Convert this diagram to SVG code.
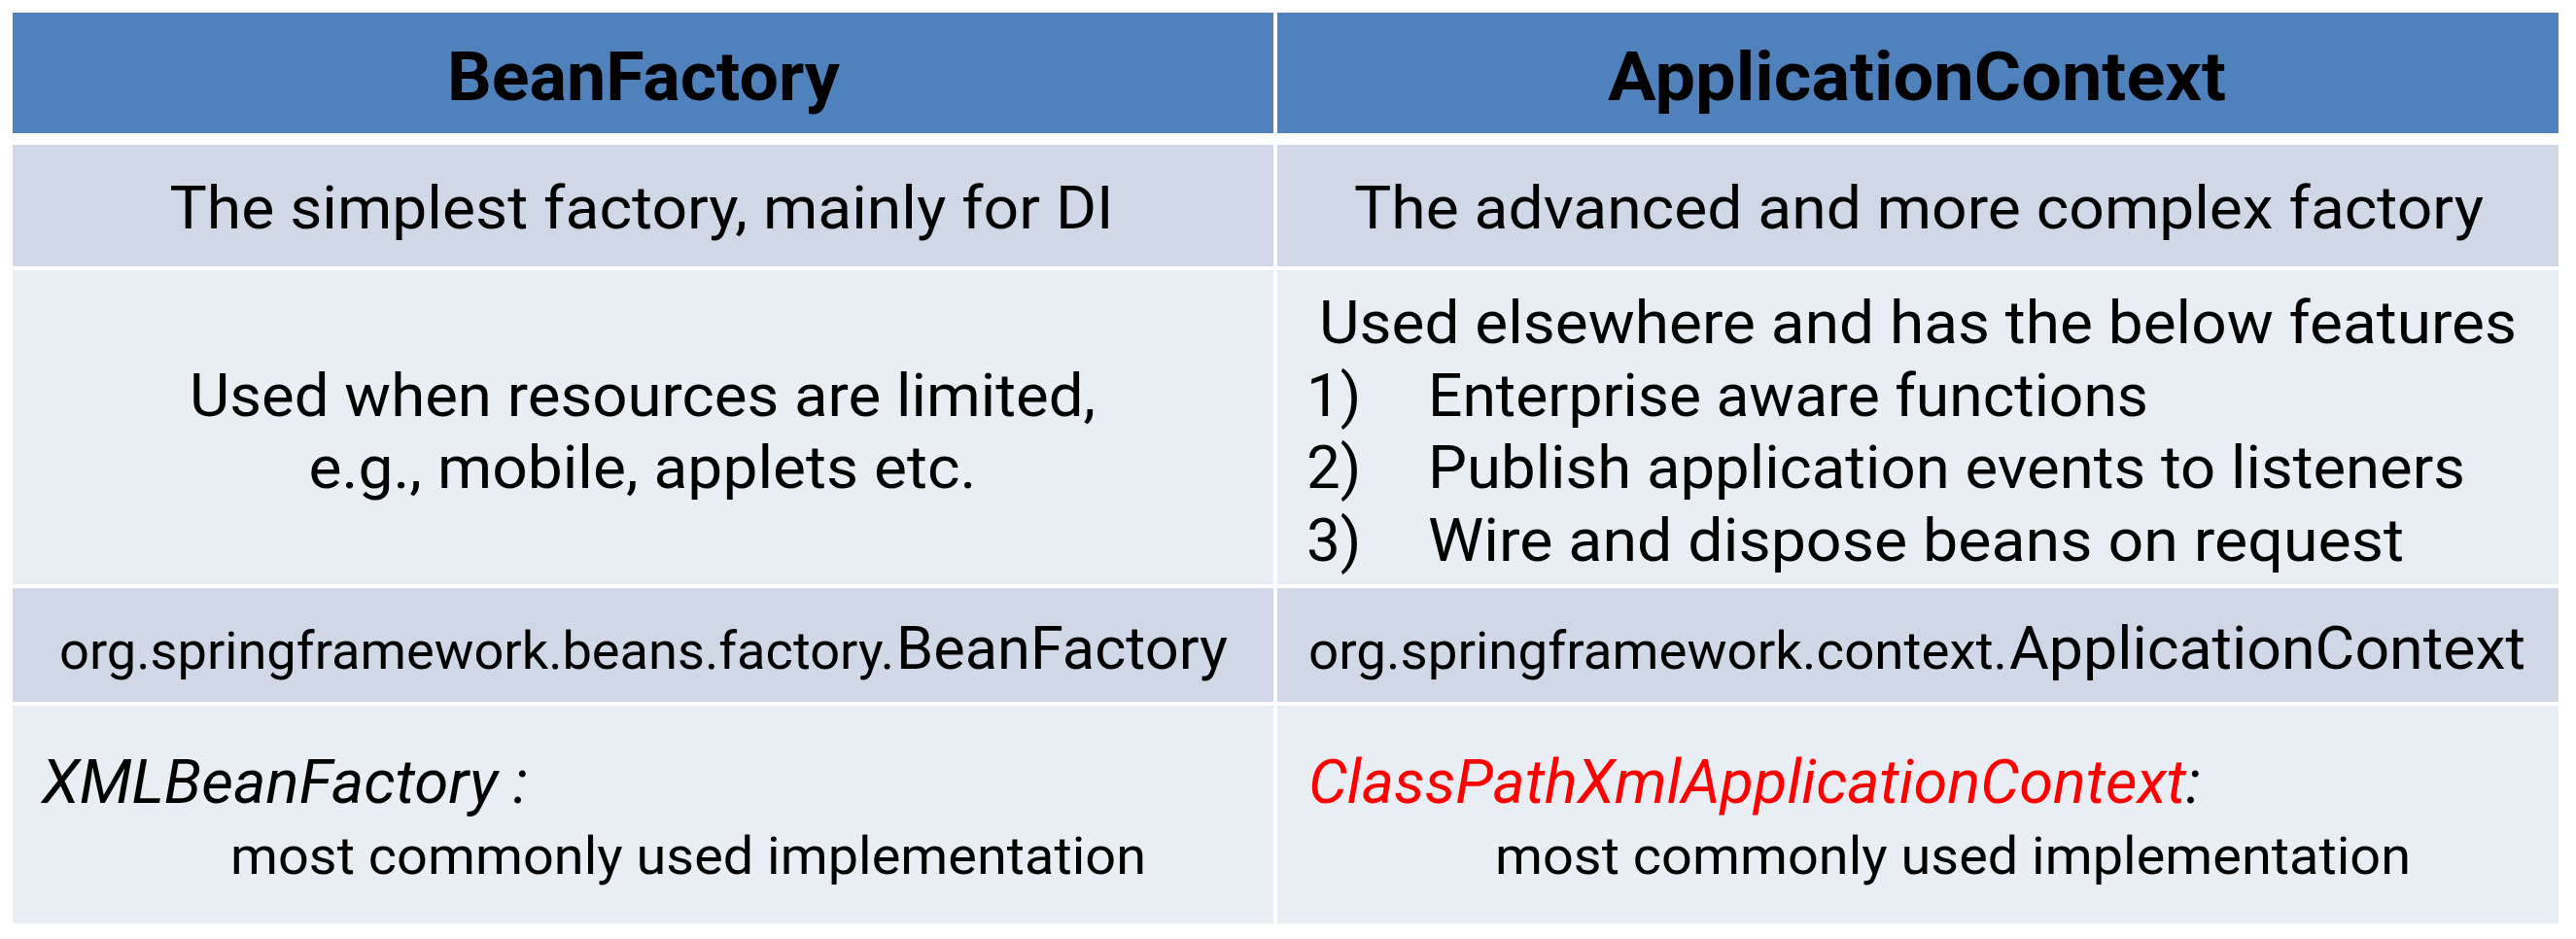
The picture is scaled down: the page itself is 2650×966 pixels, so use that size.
<svg xmlns="http://www.w3.org/2000/svg" width="2650" height="966" viewBox="0 0 2650 966">
<style>
.hd{fill:#4F81BD}
.c1{fill:#D0D8E8}
.c2{fill:#E9EDF4}
text{font-family:Roboto,"Noto Sans","Liberation Sans",sans-serif;fill:#000}
.h{font-size:70px;font-weight:bold;text-anchor:middle}
.t{font-size:62px}
.m{text-anchor:middle}
.s{font-size:53px}
.i{font-style:italic}
.red{fill:#FF0000}
</style>
<rect width="2650" height="966" fill="#FFFFFF"/>
<g id="header-beanfactory">
<rect class="hd" x="13" y="13" width="1297" height="124"/>
<text class="h" x="662" y="103" textLength="404" lengthAdjust="spacingAndGlyphs">BeanFactory</text>
</g>
<g id="header-applicationcontext">
<rect class="hd" x="1314" y="13" width="1318" height="124"/>
<text class="h" x="1972" y="103" textLength="636" lengthAdjust="spacingAndGlyphs">ApplicationContext</text>
</g>
<g id="row1-left">
<rect class="c1" x="13" y="149" width="1297" height="125"/>
<text class="t m" x="660" y="235" textLength="971" lengthAdjust="spacingAndGlyphs">The simplest factory, mainly for DI</text>
</g>
<g id="row1-right">
<rect class="c1" x="1314" y="149" width="1318" height="125"/>
<text class="t m" x="1974" y="235" textLength="1162" lengthAdjust="spacingAndGlyphs">The advanced and more complex factory</text>
</g>
<g id="row2-left">
<rect class="c2" x="13" y="278" width="1297" height="323"/>
<text class="t m" x="661" y="428" textLength="932" lengthAdjust="spacingAndGlyphs">Used when resources are limited,</text>
<text class="t m" x="661" y="502" textLength="687" lengthAdjust="spacingAndGlyphs">e.g., mobile, applets etc.</text>
</g>
<g id="row2-right">
<rect class="c2" x="1314" y="278" width="1318" height="323"/>
<text class="t" x="1357" y="353" textLength="1232" lengthAdjust="spacingAndGlyphs">Used elsewhere and has the below features</text>
<text class="t" x="1344" y="428">1)</text>
<text class="t" x="1469" y="428" textLength="741" lengthAdjust="spacingAndGlyphs">Enterprise aware functions</text>
<text class="t" x="1344" y="502">2)</text>
<text class="t" x="1469" y="502" textLength="1067" lengthAdjust="spacingAndGlyphs">Publish application events to listeners</text>
<text class="t" x="1344" y="577">3)</text>
<text class="t" x="1469" y="577" textLength="1004" lengthAdjust="spacingAndGlyphs">Wire and dispose beans on request</text>
</g>
<g id="row3-left">
<rect class="c1" x="13" y="605" width="1297" height="117"/>
<text class="s" x="61" y="688" textLength="859" lengthAdjust="spacingAndGlyphs">org.springframework.beans.factory.</text>
<text class="t" x="922" y="688" textLength="341" lengthAdjust="spacingAndGlyphs">BeanFactory</text>
</g>
<g id="row3-right">
<rect class="c1" x="1314" y="605" width="1318" height="117"/>
<text class="s" x="1346" y="688" textLength="719" lengthAdjust="spacingAndGlyphs">org.springframework.context.</text>
<text class="t" x="2067" y="688" textLength="531" lengthAdjust="spacingAndGlyphs">ApplicationContext</text>
</g>
<g id="row4-left">
<rect class="c2" x="13" y="726" width="1297" height="224"/>
<text class="t i" x="43" y="826" textLength="500" lengthAdjust="spacingAndGlyphs">XMLBeanFactory :</text>
<text class="s" x="237" y="899" textLength="942" lengthAdjust="spacingAndGlyphs">most commonly used implementation</text>
</g>
<g id="row4-right">
<rect class="c2" x="1314" y="726" width="1318" height="224"/>
<text class="t i" x="1346" y="826" textLength="918" lengthAdjust="spacingAndGlyphs"><tspan class="red">ClassPathXmlApplicationContext</tspan>:</text>
<text class="s" x="1538" y="899" textLength="942" lengthAdjust="spacingAndGlyphs">most commonly used implementation</text>
</g>
<g id="connectors"></g>
</svg>
